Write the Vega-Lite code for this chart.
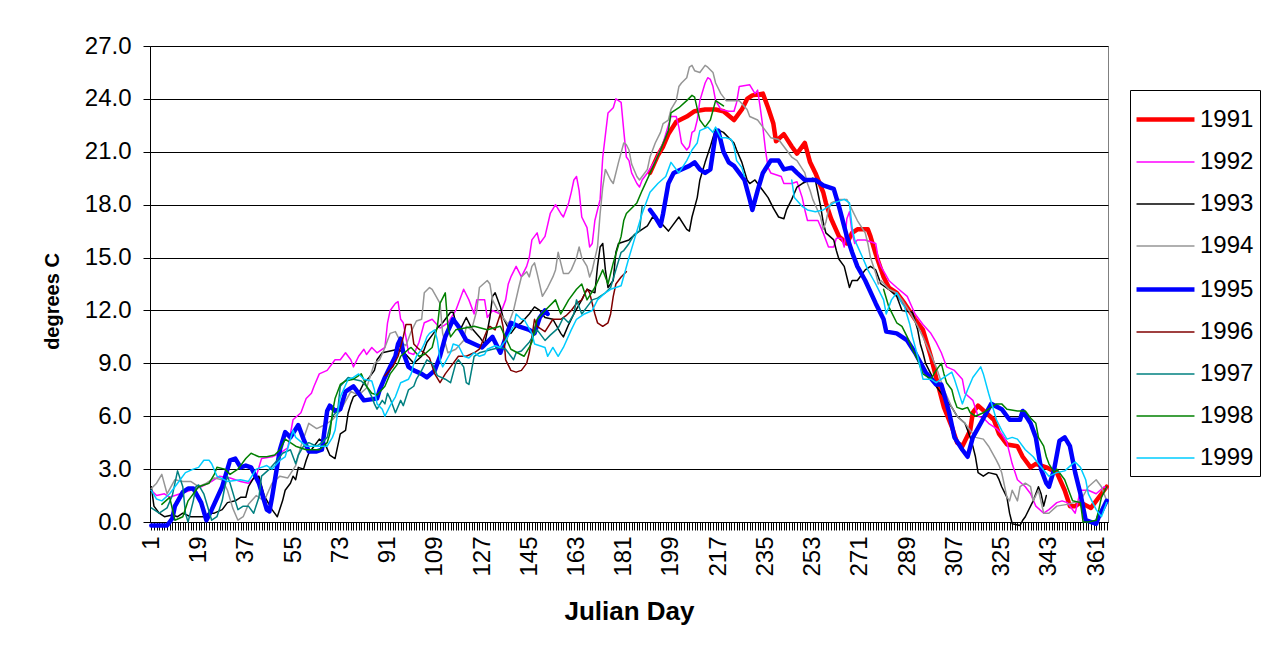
{
  "$schema": "https://vega.github.io/schema/vega-lite/v6.json",
  "width": 958,
  "height": 476,
  "autosize": {"type": "none"},
  "padding": {"left": 150, "top": 46, "right": 159, "bottom": 131},
  "background": "white",
  "config": {
    "font": "Liberation Sans",
    "view": {"stroke": "#808080", "strokeWidth": 1},
    "axis": {"labelFont": "Liberation Sans", "titleFont": "Liberation Sans", "labelColor": "black", "titleColor": "black", "domainColor": "black", "tickColor": "black"}
  },
  "data": {"values": [
    {"s":"1991","d":191,"t":19.8},{"s":"1991","d":194,"t":20.8},{"s":"1991","d":196,"t":21.3},{"s":"1991","d":198,"t":22.0},{"s":"1991","d":201,"t":22.7},{"s":"1991","d":205,"t":23.0},{"s":"1991","d":208,"t":23.3},{"s":"1991","d":212,"t":23.4},{"s":"1991","d":216,"t":23.4},{"s":"1991","d":219,"t":23.3},{"s":"1991","d":223,"t":22.8},{"s":"1991","d":226,"t":23.4},{"s":"1991","d":228,"t":24.0},{"s":"1991","d":230,"t":24.2},{"s":"1991","d":234,"t":24.3},{"s":"1991","d":236,"t":23.5},{"s":"1991","d":238,"t":22.6},{"s":"1991","d":239,"t":21.6},{"s":"1991","d":242,"t":22.0},{"s":"1991","d":245,"t":21.3},{"s":"1991","d":247,"t":20.9},{"s":"1991","d":250,"t":21.5},{"s":"1991","d":252,"t":20.4},{"s":"1991","d":254,"t":19.8},{"s":"1991","d":257,"t":18.7},{"s":"1991","d":258,"t":18.1},{"s":"1991","d":260,"t":17.2},{"s":"1991","d":263,"t":16.2},{"s":"1991","d":266,"t":15.8},{"s":"1991","d":268,"t":16.4},{"s":"1991","d":270,"t":16.6},{"s":"1991","d":274,"t":16.6},{"s":"1991","d":275,"t":16.2},{"s":"1991","d":277,"t":15.2},{"s":"1991","d":280,"t":13.9},{"s":"1991","d":282,"t":13.3},{"s":"1991","d":285,"t":13.0},{"s":"1991","d":288,"t":12.4},{"s":"1991","d":292,"t":11.5},{"s":"1991","d":295,"t":10.9},{"s":"1991","d":298,"t":9.4},{"s":"1991","d":300,"t":8.2},{"s":"1991","d":303,"t":6.5},{"s":"1991","d":306,"t":5.4},{"s":"1991","d":308,"t":4.5},{"s":"1991","d":310,"t":4.3},{"s":"1991","d":311,"t":4.6},{"s":"1991","d":313,"t":5.2},{"s":"1991","d":314,"t":6.2},{"s":"1991","d":316,"t":6.6},{"s":"1991","d":319,"t":6.2},{"s":"1991","d":322,"t":5.8},{"s":"1991","d":324,"t":5.0},{"s":"1991","d":327,"t":4.4},{"s":"1991","d":331,"t":4.3},{"s":"1991","d":333,"t":3.7},{"s":"1991","d":336,"t":3.1},{"s":"1991","d":338,"t":3.3},{"s":"1991","d":342,"t":3.1},{"s":"1991","d":346,"t":2.8},{"s":"1991","d":349,"t":1.8},{"s":"1991","d":351,"t":0.9},{"s":"1991","d":353,"t":0.9},{"s":"1991","d":355,"t":1.1},{"s":"1991","d":359,"t":0.8},{"s":"1991","d":361,"t":1.2},{"s":"1991","d":364,"t":1.8},{"s":"1991","d":365,"t":2.0},
    {"s":"1992","d":1,"t":1.8},{"s":"1992","d":3,"t":1.5},{"s":"1992","d":6,"t":1.6},{"s":"1992","d":8,"t":1.4},{"s":"1992","d":12,"t":1.6},{"s":"1992","d":16,"t":1.8},{"s":"1992","d":20,"t":2.0},{"s":"1992","d":24,"t":2.3},{"s":"1992","d":27,"t":2.6},{"s":"1992","d":31,"t":2.5},{"s":"1992","d":35,"t":2.3},{"s":"1992","d":38,"t":2.2},{"s":"1992","d":41,"t":2.6},{"s":"1992","d":43,"t":3.6},{"s":"1992","d":47,"t":3.7},{"s":"1992","d":50,"t":3.9},{"s":"1992","d":53,"t":4.2},{"s":"1992","d":55,"t":5.8},{"s":"1992","d":58,"t":6.2},{"s":"1992","d":60,"t":7.0},{"s":"1992","d":62,"t":7.3},{"s":"1992","d":63,"t":7.7},{"s":"1992","d":65,"t":8.4},{"s":"1992","d":68,"t":8.6},{"s":"1992","d":71,"t":9.2},{"s":"1992","d":73,"t":9.2},{"s":"1992","d":75,"t":9.6},{"s":"1992","d":77,"t":9.2},{"s":"1992","d":78,"t":8.8},{"s":"1992","d":80,"t":9.4},{"s":"1992","d":82,"t":9.8},{"s":"1992","d":83,"t":9.5},{"s":"1992","d":85,"t":9.9},{"s":"1992","d":87,"t":9.6},{"s":"1992","d":90,"t":9.9},{"s":"1992","d":91,"t":11.3},{"s":"1992","d":92,"t":12.0},{"s":"1992","d":94,"t":12.4},{"s":"1992","d":95,"t":12.5},{"s":"1992","d":96,"t":11.5},{"s":"1992","d":97,"t":11.3},{"s":"1992","d":98,"t":10.5},{"s":"1992","d":99,"t":9.6},{"s":"1992","d":101,"t":9.5},{"s":"1992","d":103,"t":10.2},{"s":"1992","d":105,"t":11.3},{"s":"1992","d":108,"t":11.5},{"s":"1992","d":111,"t":11.0},{"s":"1992","d":114,"t":11.3},{"s":"1992","d":117,"t":12.0},{"s":"1992","d":120,"t":13.2},{"s":"1992","d":122,"t":12.6},{"s":"1992","d":124,"t":11.8},{"s":"1992","d":125,"t":12.6},{"s":"1992","d":128,"t":12.6},{"s":"1992","d":129,"t":11.6},{"s":"1992","d":131,"t":12.0},{"s":"1992","d":134,"t":11.8},{"s":"1992","d":136,"t":12.6},{"s":"1992","d":137,"t":13.5},{"s":"1992","d":138,"t":13.9},{"s":"1992","d":140,"t":14.5},{"s":"1992","d":142,"t":13.9},{"s":"1992","d":144,"t":14.5},{"s":"1992","d":145,"t":15.0},{"s":"1992","d":146,"t":16.0},{"s":"1992","d":148,"t":16.4},{"s":"1992","d":149,"t":15.8},{"s":"1992","d":151,"t":16.2},{"s":"1992","d":153,"t":17.5},{"s":"1992","d":155,"t":18.0},{"s":"1992","d":157,"t":17.5},{"s":"1992","d":158,"t":17.3},{"s":"1992","d":160,"t":18.1},{"s":"1992","d":161,"t":18.7},{"s":"1992","d":162,"t":19.4},{"s":"1992","d":163,"t":19.6},{"s":"1992","d":164,"t":18.8},{"s":"1992","d":165,"t":17.3},{"s":"1992","d":167,"t":16.7},{"s":"1992","d":168,"t":15.6},{"s":"1992","d":169,"t":15.8},{"s":"1992","d":170,"t":17.1},{"s":"1992","d":172,"t":18.3},{"s":"1992","d":173,"t":20.7},{"s":"1992","d":175,"t":23.2},{"s":"1992","d":177,"t":23.5},{"s":"1992","d":178,"t":24.0},{"s":"1992","d":180,"t":23.8},{"s":"1992","d":181,"t":22.2},{"s":"1992","d":182,"t":20.7},{"s":"1992","d":183,"t":20.5},{"s":"1992","d":184,"t":19.8},{"s":"1992","d":186,"t":19.2},{"s":"1992","d":187,"t":19.0},{"s":"1992","d":188,"t":19.4},{"s":"1992","d":190,"t":19.8},{"s":"1992","d":193,"t":20.5},{"s":"1992","d":196,"t":21.5},{"s":"1992","d":199,"t":23.0},{"s":"1992","d":201,"t":23.0},{"s":"1992","d":202,"t":22.4},{"s":"1992","d":203,"t":21.5},{"s":"1992","d":205,"t":21.1},{"s":"1992","d":206,"t":21.3},{"s":"1992","d":207,"t":22.1},{"s":"1992","d":208,"t":22.2},{"s":"1992","d":209,"t":22.8},{"s":"1992","d":210,"t":23.9},{"s":"1992","d":212,"t":24.9},{"s":"1992","d":213,"t":25.2},{"s":"1992","d":214,"t":25.1},{"s":"1992","d":215,"t":24.7},{"s":"1992","d":216,"t":23.9},{"s":"1992","d":218,"t":23.4},{"s":"1992","d":221,"t":23.3},{"s":"1992","d":223,"t":23.3},{"s":"1992","d":224,"t":23.8},{"s":"1992","d":225,"t":24.7},{"s":"1992","d":229,"t":24.8},{"s":"1992","d":231,"t":24.3},{"s":"1992","d":232,"t":24.5},{"s":"1992","d":233,"t":23.5},{"s":"1992","d":234,"t":22.4},{"s":"1992","d":235,"t":21.1},{"s":"1992","d":236,"t":20.1},{"s":"1992","d":237,"t":19.8},{"s":"1992","d":241,"t":19.6},{"s":"1992","d":242,"t":19.2},{"s":"1992","d":245,"t":19.2},{"s":"1992","d":247,"t":19.3},{"s":"1992","d":249,"t":18.4},{"s":"1992","d":250,"t":17.7},{"s":"1992","d":251,"t":17.1},{"s":"1992","d":255,"t":17.1},{"s":"1992","d":257,"t":16.4},{"s":"1992","d":259,"t":15.6},{"s":"1992","d":261,"t":15.6},{"s":"1992","d":262,"t":16.1},{"s":"1992","d":264,"t":16.1},{"s":"1992","d":265,"t":15.6},{"s":"1992","d":266,"t":17.2},{"s":"1992","d":267,"t":17.6},{"s":"1992","d":268,"t":16.4},{"s":"1992","d":269,"t":15.8},{"s":"1992","d":270,"t":16.0},{"s":"1992","d":273,"t":16.0},{"s":"1992","d":277,"t":15.8},{"s":"1992","d":278,"t":14.9},{"s":"1992","d":279,"t":14.5},{"s":"1992","d":282,"t":13.7},{"s":"1992","d":285,"t":13.3},{"s":"1992","d":289,"t":12.8},{"s":"1992","d":292,"t":11.8},{"s":"1992","d":295,"t":11.2},{"s":"1992","d":298,"t":10.7},{"s":"1992","d":300,"t":10.2},{"s":"1992","d":302,"t":9.6},{"s":"1992","d":304,"t":8.8},{"s":"1992","d":307,"t":8.6},{"s":"1992","d":310,"t":8.1},{"s":"1992","d":311,"t":7.3},{"s":"1992","d":314,"t":6.9},{"s":"1992","d":316,"t":6.0},{"s":"1992","d":318,"t":5.9},{"s":"1992","d":320,"t":5.6},{"s":"1992","d":323,"t":5.3},{"s":"1992","d":325,"t":5.0},{"s":"1992","d":327,"t":4.5},{"s":"1992","d":329,"t":3.3},{"s":"1992","d":331,"t":2.4},{"s":"1992","d":334,"t":2.0},{"s":"1992","d":336,"t":1.6},{"s":"1992","d":338,"t":0.9},{"s":"1992","d":341,"t":0.5},{"s":"1992","d":343,"t":0.7},{"s":"1992","d":346,"t":1.1},{"s":"1992","d":348,"t":1.2},{"s":"1992","d":350,"t":1.1},{"s":"1992","d":353,"t":0.5},{"s":"1992","d":355,"t":1.8},{"s":"1992","d":358,"t":1.8},{"s":"1992","d":361,"t":1.6},{"s":"1992","d":364,"t":2.0},{"s":"1992","d":365,"t":1.9},
    {"s":"1993","d":1,"t":2.0},{"s":"1993","d":2,"t":0.9},{"s":"1993","d":4,"t":0.5},{"s":"1993","d":6,"t":0.3},{"s":"1993","d":9,"t":0.4},{"s":"1993","d":11,"t":0.3},{"s":"1993","d":13,"t":0.5},{"s":"1993","d":16,"t":0.3},{"s":"1993","d":21,"t":0.3},{"s":"1993","d":23,"t":0.5},{"s":"1993","d":25,"t":0.5},{"s":"1993","d":28,"t":0.7},{"s":"1993","d":30,"t":1.1},{"s":"1993","d":33,"t":1.2},{"s":"1993","d":35,"t":1.4},{"s":"1993","d":37,"t":1.4},{"s":"1993","d":38,"t":2.0},{"s":"1993","d":40,"t":2.5},{"s":"1993","d":42,"t":2.6},{"s":"1993","d":44,"t":1.5},{"s":"1993","d":47,"t":0.7},{"s":"1993","d":49,"t":0.3},{"s":"1993","d":51,"t":1.2},{"s":"1993","d":52,"t":1.8},{"s":"1993","d":54,"t":2.2},{"s":"1993","d":55,"t":2.6},{"s":"1993","d":56,"t":2.4},{"s":"1993","d":57,"t":3.1},{"s":"1993","d":59,"t":3.0},{"s":"1993","d":60,"t":3.5},{"s":"1993","d":61,"t":3.9},{"s":"1993","d":63,"t":4.3},{"s":"1993","d":65,"t":4.7},{"s":"1993","d":67,"t":4.5},{"s":"1993","d":69,"t":3.8},{"s":"1993","d":71,"t":3.6},{"s":"1993","d":73,"t":5.0},{"s":"1993","d":75,"t":5.2},{"s":"1993","d":76,"t":6.2},{"s":"1993","d":77,"t":6.7},{"s":"1993","d":78,"t":7.1},{"s":"1993","d":80,"t":7.3},{"s":"1993","d":82,"t":7.9},{"s":"1993","d":84,"t":8.2},{"s":"1993","d":86,"t":8.6},{"s":"1993","d":87,"t":9.2},{"s":"1993","d":89,"t":9.6},{"s":"1993","d":92,"t":9.7},{"s":"1993","d":95,"t":9.8},{"s":"1993","d":98,"t":9.5},{"s":"1993","d":101,"t":9.0},{"s":"1993","d":104,"t":9.4},{"s":"1993","d":106,"t":10.2},{"s":"1993","d":108,"t":10.6},{"s":"1993","d":110,"t":11.0},{"s":"1993","d":112,"t":11.3},{"s":"1993","d":115,"t":11.9},{"s":"1993","d":116,"t":11.9},{"s":"1993","d":117,"t":11.3},{"s":"1993","d":119,"t":11.0},{"s":"1993","d":121,"t":11.6},{"s":"1993","d":123,"t":11.0},{"s":"1993","d":126,"t":10.5},{"s":"1993","d":128,"t":10.1},{"s":"1993","d":129,"t":10.8},{"s":"1993","d":130,"t":11.6},{"s":"1993","d":131,"t":12.8},{"s":"1993","d":132,"t":13.0},{"s":"1993","d":134,"t":12.2},{"s":"1993","d":135,"t":11.6},{"s":"1993","d":138,"t":10.7},{"s":"1993","d":140,"t":11.1},{"s":"1993","d":142,"t":11.3},{"s":"1993","d":145,"t":11.8},{"s":"1993","d":147,"t":12.2},{"s":"1993","d":149,"t":12.0},{"s":"1993","d":151,"t":11.6},{"s":"1993","d":154,"t":11.5},{"s":"1993","d":157,"t":10.7},{"s":"1993","d":158,"t":10.5},{"s":"1993","d":160,"t":11.2},{"s":"1993","d":162,"t":11.8},{"s":"1993","d":165,"t":12.6},{"s":"1993","d":167,"t":13.2},{"s":"1993","d":170,"t":13.0},{"s":"1993","d":171,"t":14.5},{"s":"1993","d":172,"t":15.6},{"s":"1993","d":173,"t":15.8},{"s":"1993","d":174,"t":14.3},{"s":"1993","d":175,"t":13.3},{"s":"1993","d":177,"t":13.7},{"s":"1993","d":178,"t":15.3},{"s":"1993","d":179,"t":15.8},{"s":"1993","d":183,"t":16.0},{"s":"1993","d":186,"t":16.4},{"s":"1993","d":190,"t":16.8},{"s":"1993","d":192,"t":17.3},{"s":"1993","d":195,"t":17.0},{"s":"1993","d":198,"t":16.5},{"s":"1993","d":199,"t":16.7},{"s":"1993","d":202,"t":17.3},{"s":"1993","d":205,"t":16.6},{"s":"1993","d":206,"t":16.5},{"s":"1993","d":207,"t":17.3},{"s":"1993","d":209,"t":18.4},{"s":"1993","d":210,"t":19.4},{"s":"1993","d":212,"t":20.4},{"s":"1993","d":214,"t":21.3},{"s":"1993","d":216,"t":22.3},{"s":"1993","d":219,"t":22.1},{"s":"1993","d":221,"t":21.8},{"s":"1993","d":223,"t":21.5},{"s":"1993","d":224,"t":21.1},{"s":"1993","d":226,"t":20.4},{"s":"1993","d":228,"t":19.4},{"s":"1993","d":229,"t":19.2},{"s":"1993","d":231,"t":19.4},{"s":"1993","d":234,"t":18.8},{"s":"1993","d":236,"t":18.4},{"s":"1993","d":238,"t":17.8},{"s":"1993","d":240,"t":17.3},{"s":"1993","d":242,"t":17.2},{"s":"1993","d":243,"t":17.7},{"s":"1993","d":245,"t":18.3},{"s":"1993","d":247,"t":19.0},{"s":"1993","d":249,"t":19.2},{"s":"1993","d":253,"t":19.5},{"s":"1993","d":254,"t":19.4},{"s":"1993","d":256,"t":17.9},{"s":"1993","d":257,"t":17.0},{"s":"1993","d":258,"t":16.4},{"s":"1993","d":261,"t":16.0},{"s":"1993","d":262,"t":15.4},{"s":"1993","d":263,"t":14.9},{"s":"1993","d":265,"t":14.5},{"s":"1993","d":266,"t":13.9},{"s":"1993","d":267,"t":13.3},{"s":"1993","d":268,"t":13.7},{"s":"1993","d":270,"t":13.7},{"s":"1993","d":273,"t":14.3},{"s":"1993","d":275,"t":14.5},{"s":"1993","d":277,"t":14.3},{"s":"1993","d":279,"t":13.5},{"s":"1993","d":282,"t":13.2},{"s":"1993","d":285,"t":12.8},{"s":"1993","d":287,"t":12.0},{"s":"1993","d":291,"t":11.9},{"s":"1993","d":293,"t":10.9},{"s":"1993","d":294,"t":10.1},{"s":"1993","d":295,"t":9.6},{"s":"1993","d":296,"t":9.0},{"s":"1993","d":298,"t":8.4},{"s":"1993","d":300,"t":7.7},{"s":"1993","d":303,"t":7.1},{"s":"1993","d":306,"t":6.5},{"s":"1993","d":308,"t":6.0},{"s":"1993","d":311,"t":5.6},{"s":"1993","d":312,"t":5.2},{"s":"1993","d":313,"t":4.8},{"s":"1993","d":314,"t":4.3},{"s":"1993","d":315,"t":3.7},{"s":"1993","d":316,"t":2.8},{"s":"1993","d":318,"t":2.6},{"s":"1993","d":320,"t":2.8},{"s":"1993","d":323,"t":2.7},{"s":"1993","d":324,"t":2.4},{"s":"1993","d":325,"t":2.0},{"s":"1993","d":327,"t":1.4},{"s":"1993","d":328,"t":0.5},{"s":"1993","d":329,"t":-0.1},{"s":"1993","d":332,"t":-0.2},{"s":"1993","d":333,"t":0.1},{"s":"1993","d":334,"t":0.3},{"s":"1993","d":336,"t":0.9},{"s":"1993","d":337,"t":1.2},{"s":"1993","d":338,"t":1.6},{"s":"1993","d":339,"t":2.0},{"s":"1993","d":340,"t":1.6},{"s":"1993","d":341,"t":0.9},{"s":"1993","d":342,"t":1.5},
    {"s":"1994","d":1,"t":1.9},{"s":"1994","d":3,"t":2.2},{"s":"1994","d":5,"t":2.7},{"s":"1994","d":7,"t":1.6},{"s":"1994","d":10,"t":2.4},{"s":"1994","d":13,"t":2.3},{"s":"1994","d":16,"t":2.3},{"s":"1994","d":19,"t":2.0},{"s":"1994","d":22,"t":2.2},{"s":"1994","d":25,"t":2.5},{"s":"1994","d":28,"t":2.4},{"s":"1994","d":30,"t":1.8},{"s":"1994","d":32,"t":0.8},{"s":"1994","d":34,"t":0.1},{"s":"1994","d":36,"t":0.3},{"s":"1994","d":38,"t":1.0},{"s":"1994","d":41,"t":1.5},{"s":"1994","d":44,"t":1.2},{"s":"1994","d":47,"t":2.2},{"s":"1994","d":50,"t":2.6},{"s":"1994","d":53,"t":2.5},{"s":"1994","d":56,"t":3.2},{"s":"1994","d":58,"t":4.3},{"s":"1994","d":61,"t":5.6},{"s":"1994","d":64,"t":5.3},{"s":"1994","d":67,"t":5.5},{"s":"1994","d":70,"t":5.8},{"s":"1994","d":73,"t":6.3},{"s":"1994","d":77,"t":7.4},{"s":"1994","d":80,"t":7.2},{"s":"1994","d":83,"t":7.6},{"s":"1994","d":86,"t":9.0},{"s":"1994","d":88,"t":9.2},{"s":"1994","d":90,"t":9.9},{"s":"1994","d":92,"t":10.7},{"s":"1994","d":94,"t":10.8},{"s":"1994","d":96,"t":10.2},{"s":"1994","d":98,"t":10.0},{"s":"1994","d":100,"t":10.8},{"s":"1994","d":102,"t":11.4},{"s":"1994","d":104,"t":11.5},{"s":"1994","d":105,"t":13.0},{"s":"1994","d":107,"t":13.3},{"s":"1994","d":108,"t":13.2},{"s":"1994","d":111,"t":12.4},{"s":"1994","d":112,"t":10.7},{"s":"1994","d":114,"t":9.6},{"s":"1994","d":117,"t":9.8},{"s":"1994","d":120,"t":10.3},{"s":"1994","d":121,"t":11.1},{"s":"1994","d":123,"t":10.9},{"s":"1994","d":125,"t":12.0},{"s":"1994","d":126,"t":13.3},{"s":"1994","d":129,"t":13.7},{"s":"1994","d":130,"t":13.5},{"s":"1994","d":131,"t":12.6},{"s":"1994","d":133,"t":12.0},{"s":"1994","d":135,"t":11.6},{"s":"1994","d":137,"t":11.2},{"s":"1994","d":139,"t":12.0},{"s":"1994","d":141,"t":13.3},{"s":"1994","d":142,"t":13.9},{"s":"1994","d":144,"t":14.2},{"s":"1994","d":145,"t":13.9},{"s":"1994","d":146,"t":14.5},{"s":"1994","d":147,"t":14.7},{"s":"1994","d":148,"t":14.1},{"s":"1994","d":150,"t":12.8},{"s":"1994","d":152,"t":13.3},{"s":"1994","d":154,"t":13.9},{"s":"1994","d":155,"t":14.3},{"s":"1994","d":156,"t":15.3},{"s":"1994","d":157,"t":14.7},{"s":"1994","d":158,"t":14.1},{"s":"1994","d":160,"t":14.1},{"s":"1994","d":161,"t":14.3},{"s":"1994","d":163,"t":15.0},{"s":"1994","d":164,"t":15.6},{"s":"1994","d":165,"t":15.0},{"s":"1994","d":167,"t":14.5},{"s":"1994","d":168,"t":13.9},{"s":"1994","d":169,"t":14.3},{"s":"1994","d":171,"t":15.6},{"s":"1994","d":172,"t":17.5},{"s":"1994","d":173,"t":19.0},{"s":"1994","d":174,"t":20.0},{"s":"1994","d":176,"t":19.4},{"s":"1994","d":177,"t":19.2},{"s":"1994","d":179,"t":20.4},{"s":"1994","d":181,"t":21.5},{"s":"1994","d":182,"t":21.4},{"s":"1994","d":183,"t":21.1},{"s":"1994","d":184,"t":20.3},{"s":"1994","d":186,"t":19.6},{"s":"1994","d":187,"t":19.4},{"s":"1994","d":188,"t":19.6},{"s":"1994","d":190,"t":20.0},{"s":"1994","d":191,"t":20.7},{"s":"1994","d":193,"t":21.5},{"s":"1994","d":195,"t":22.1},{"s":"1994","d":196,"t":22.6},{"s":"1994","d":198,"t":22.8},{"s":"1994","d":199,"t":23.4},{"s":"1994","d":201,"t":23.9},{"s":"1994","d":202,"t":24.7},{"s":"1994","d":203,"t":24.9},{"s":"1994","d":205,"t":25.2},{"s":"1994","d":206,"t":25.8},{"s":"1994","d":207,"t":25.9},{"s":"1994","d":208,"t":25.6},{"s":"1994","d":210,"t":25.5},{"s":"1994","d":212,"t":25.9},{"s":"1994","d":213,"t":25.8},{"s":"1994","d":215,"t":25.5},{"s":"1994","d":216,"t":24.9},{"s":"1994","d":218,"t":24.3},{"s":"1994","d":220,"t":23.9},{"s":"1994","d":225,"t":23.9},{"s":"1994","d":228,"t":23.4},{"s":"1994","d":229,"t":23.0},{"s":"1994","d":232,"t":22.8},{"s":"1994","d":234,"t":22.4},{"s":"1994","d":237,"t":21.8},{"s":"1994","d":240,"t":21.7},{"s":"1994","d":242,"t":21.3},{"s":"1994","d":245,"t":20.7},{"s":"1994","d":247,"t":20.5},{"s":"1994","d":250,"t":19.8},{"s":"1994","d":251,"t":19.2},{"s":"1994","d":252,"t":18.8},{"s":"1994","d":253,"t":18.3},{"s":"1994","d":256,"t":17.3},{"s":"1994","d":257,"t":16.6},{"s":"1994","d":258,"t":17.0},{"s":"1994","d":259,"t":17.7},{"s":"1994","d":260,"t":18.1},{"s":"1994","d":263,"t":18.3},{"s":"1994","d":266,"t":18.3},{"s":"1994","d":268,"t":17.7},{"s":"1994","d":270,"t":17.1},{"s":"1994","d":273,"t":16.4},{"s":"1994","d":274,"t":15.8},{"s":"1994","d":275,"t":15.0},{"s":"1994","d":277,"t":14.1},{"s":"1994","d":278,"t":13.5},{"s":"1994","d":279,"t":13.7},{"s":"1994","d":282,"t":13.2},{"s":"1994","d":285,"t":13.0},{"s":"1994","d":287,"t":12.6},{"s":"1994","d":290,"t":11.9},{"s":"1994","d":293,"t":11.1},{"s":"1994","d":295,"t":10.5},{"s":"1994","d":298,"t":9.5},{"s":"1994","d":300,"t":8.8},{"s":"1994","d":303,"t":7.5},{"s":"1994","d":306,"t":6.5},{"s":"1994","d":308,"t":6.0},{"s":"1994","d":311,"t":5.6},{"s":"1994","d":313,"t":5.2},{"s":"1994","d":315,"t":4.8},{"s":"1994","d":318,"t":4.7},{"s":"1994","d":320,"t":4.3},{"s":"1994","d":323,"t":3.5},{"s":"1994","d":324,"t":3.2},{"s":"1994","d":325,"t":2.8},{"s":"1994","d":327,"t":1.4},{"s":"1994","d":328,"t":1.2},{"s":"1994","d":329,"t":1.8},{"s":"1994","d":331,"t":1.2},{"s":"1994","d":332,"t":2.0},{"s":"1994","d":334,"t":2.2},{"s":"1994","d":336,"t":2.0},{"s":"1994","d":337,"t":1.2},{"s":"1994","d":339,"t":1.8},{"s":"1994","d":341,"t":0.5},{"s":"1994","d":343,"t":0.5},{"s":"1994","d":346,"t":0.9},{"s":"1994","d":350,"t":1.0},{"s":"1994","d":355,"t":1.2},{"s":"1994","d":358,"t":2.0},{"s":"1994","d":361,"t":2.4},{"s":"1994","d":363,"t":2.0},{"s":"1994","d":365,"t":1.2},
    {"s":"1995","d":1,"t":-0.2},{"s":"1995","d":7,"t":-0.2},{"s":"1995","d":9,"t":0.2},{"s":"1995","d":10,"t":0.9},{"s":"1995","d":13,"t":1.7},{"s":"1995","d":15,"t":1.9},{"s":"1995","d":17,"t":1.9},{"s":"1995","d":20,"t":1.1},{"s":"1995","d":22,"t":0.1},{"s":"1995","d":24,"t":0.7},{"s":"1995","d":28,"t":2.0},{"s":"1995","d":31,"t":3.5},{"s":"1995","d":33,"t":3.6},{"s":"1995","d":35,"t":3.1},{"s":"1995","d":37,"t":3.2},{"s":"1995","d":39,"t":3.1},{"s":"1995","d":42,"t":2.2},{"s":"1995","d":45,"t":0.7},{"s":"1995","d":46,"t":0.6},{"s":"1995","d":47,"t":1.4},{"s":"1995","d":50,"t":4.1},{"s":"1995","d":52,"t":5.1},{"s":"1995","d":54,"t":4.8},{"s":"1995","d":57,"t":5.5},{"s":"1995","d":59,"t":4.7},{"s":"1995","d":61,"t":4.0},{"s":"1995","d":64,"t":4.0},{"s":"1995","d":66,"t":4.1},{"s":"1995","d":68,"t":6.3},{"s":"1995","d":69,"t":6.6},{"s":"1995","d":71,"t":6.3},{"s":"1995","d":73,"t":6.4},{"s":"1995","d":75,"t":7.4},{"s":"1995","d":78,"t":7.7},{"s":"1995","d":80,"t":7.3},{"s":"1995","d":82,"t":6.9},{"s":"1995","d":87,"t":7.0},{"s":"1995","d":88,"t":7.5},{"s":"1995","d":90,"t":8.2},{"s":"1995","d":92,"t":8.8},{"s":"1995","d":94,"t":9.4},{"s":"1995","d":95,"t":10.1},{"s":"1995","d":96,"t":10.4},{"s":"1995","d":97,"t":9.6},{"s":"1995","d":99,"t":8.8},{"s":"1995","d":101,"t":8.6},{"s":"1995","d":104,"t":8.4},{"s":"1995","d":106,"t":8.2},{"s":"1995","d":109,"t":8.6},{"s":"1995","d":111,"t":9.4},{"s":"1995","d":113,"t":10.5},{"s":"1995","d":116,"t":11.5},{"s":"1995","d":118,"t":11.1},{"s":"1995","d":121,"t":10.3},{"s":"1995","d":124,"t":10.1},{"s":"1995","d":127,"t":9.9},{"s":"1995","d":131,"t":10.5},{"s":"1995","d":134,"t":9.6},{"s":"1995","d":138,"t":11.3},{"s":"1995","d":141,"t":11.1},{"s":"1995","d":145,"t":10.9},{"s":"1995","d":147,"t":10.7},{"s":"1995","d":149,"t":11.6},{"s":"1995","d":151,"t":12.0},{"s":"1995","d":152,"t":11.8},{"s":"1995","d":170,"t":null},{"s":"1995","d":191,"t":17.7},{"s":"1995","d":193,"t":17.3},{"s":"1995","d":195,"t":16.8},{"s":"1995","d":196,"t":17.5},{"s":"1995","d":198,"t":19.2},{"s":"1995","d":200,"t":19.8},{"s":"1995","d":203,"t":20.0},{"s":"1995","d":206,"t":20.2},{"s":"1995","d":208,"t":20.4},{"s":"1995","d":210,"t":20.0},{"s":"1995","d":212,"t":19.8},{"s":"1995","d":214,"t":20.0},{"s":"1995","d":216,"t":22.0},{"s":"1995","d":217,"t":22.2},{"s":"1995","d":219,"t":21.0},{"s":"1995","d":221,"t":20.4},{"s":"1995","d":223,"t":20.2},{"s":"1995","d":225,"t":19.8},{"s":"1995","d":227,"t":19.4},{"s":"1995","d":229,"t":18.3},{"s":"1995","d":230,"t":17.7},{"s":"1995","d":232,"t":18.8},{"s":"1995","d":234,"t":19.8},{"s":"1995","d":237,"t":20.5},{"s":"1995","d":240,"t":20.5},{"s":"1995","d":242,"t":20.0},{"s":"1995","d":245,"t":20.1},{"s":"1995","d":247,"t":19.8},{"s":"1995","d":250,"t":19.4},{"s":"1995","d":254,"t":19.4},{"s":"1995","d":257,"t":19.1},{"s":"1995","d":261,"t":18.9},{"s":"1995","d":263,"t":17.9},{"s":"1995","d":266,"t":16.2},{"s":"1995","d":268,"t":15.3},{"s":"1995","d":270,"t":14.5},{"s":"1995","d":273,"t":13.7},{"s":"1995","d":277,"t":12.4},{"s":"1995","d":280,"t":11.5},{"s":"1995","d":281,"t":10.8},{"s":"1995","d":285,"t":10.7},{"s":"1995","d":289,"t":10.3},{"s":"1995","d":292,"t":9.6},{"s":"1995","d":296,"t":8.5},{"s":"1995","d":300,"t":7.8},{"s":"1995","d":302,"t":7.8},{"s":"1995","d":305,"t":6.2},{"s":"1995","d":307,"t":4.8},{"s":"1995","d":310,"t":4.1},{"s":"1995","d":312,"t":3.7},{"s":"1995","d":314,"t":4.8},{"s":"1995","d":317,"t":5.6},{"s":"1995","d":321,"t":6.7},{"s":"1995","d":325,"t":6.4},{"s":"1995","d":328,"t":5.8},{"s":"1995","d":332,"t":5.8},{"s":"1995","d":333,"t":6.3},{"s":"1995","d":336,"t":5.6},{"s":"1995","d":338,"t":4.8},{"s":"1995","d":340,"t":3.0},{"s":"1995","d":342,"t":2.2},{"s":"1995","d":343,"t":2.0},{"s":"1995","d":345,"t":3.0},{"s":"1995","d":347,"t":4.6},{"s":"1995","d":349,"t":4.8},{"s":"1995","d":351,"t":4.3},{"s":"1995","d":353,"t":2.8},{"s":"1995","d":355,"t":1.6},{"s":"1995","d":357,"t":0.1},{"s":"1995","d":361,"t":-0.1},{"s":"1995","d":362,"t":0.3},{"s":"1995","d":365,"t":1.2},
    {"s":"1996","d":90,"t":8.3},{"s":"1996","d":93,"t":8.8},{"s":"1996","d":95,"t":9.4},{"s":"1996","d":97,"t":10.5},{"s":"1996","d":98,"t":11.2},{"s":"1996","d":100,"t":11.2},{"s":"1996","d":101,"t":10.1},{"s":"1996","d":103,"t":9.8},{"s":"1996","d":105,"t":9.6},{"s":"1996","d":107,"t":9.3},{"s":"1996","d":109,"t":8.4},{"s":"1996","d":111,"t":7.9},{"s":"1996","d":113,"t":8.4},{"s":"1996","d":115,"t":8.8},{"s":"1996","d":118,"t":9.4},{"s":"1996","d":121,"t":9.4},{"s":"1996","d":124,"t":9.6},{"s":"1996","d":126,"t":9.8},{"s":"1996","d":129,"t":10.9},{"s":"1996","d":130,"t":11.1},{"s":"1996","d":132,"t":10.9},{"s":"1996","d":134,"t":11.8},{"s":"1996","d":135,"t":11.1},{"s":"1996","d":136,"t":9.2},{"s":"1996","d":138,"t":8.6},{"s":"1996","d":140,"t":8.5},{"s":"1996","d":142,"t":8.6},{"s":"1996","d":144,"t":9.0},{"s":"1996","d":145,"t":9.6},{"s":"1996","d":146,"t":10.5},{"s":"1996","d":147,"t":11.5},{"s":"1996","d":148,"t":11.1},{"s":"1996","d":151,"t":10.8},{"s":"1996","d":154,"t":11.5},{"s":"1996","d":157,"t":11.5},{"s":"1996","d":159,"t":11.7},{"s":"1996","d":161,"t":12.0},{"s":"1996","d":163,"t":12.4},{"s":"1996","d":165,"t":12.6},{"s":"1996","d":167,"t":13.2},{"s":"1996","d":168,"t":13.0},{"s":"1996","d":170,"t":11.8},{"s":"1996","d":171,"t":11.3},{"s":"1996","d":173,"t":11.1},{"s":"1996","d":175,"t":11.3},{"s":"1996","d":176,"t":11.8},{"s":"1996","d":177,"t":12.8},{"s":"1996","d":178,"t":13.5},{"s":"1996","d":180,"t":13.9},{"s":"1996","d":182,"t":14.2},
    {"s":"1997","d":1,"t":0.8},{"s":"1997","d":4,"t":0.5},{"s":"1997","d":7,"t":0.8},{"s":"1997","d":9,"t":1.5},{"s":"1997","d":11,"t":2.9},{"s":"1997","d":13,"t":2.0},{"s":"1997","d":14,"t":0.5},{"s":"1997","d":15,"t":0.0},{"s":"1997","d":17,"t":1.2},{"s":"1997","d":18,"t":2.0},{"s":"1997","d":19,"t":2.1},{"s":"1997","d":21,"t":1.6},{"s":"1997","d":23,"t":0.6},{"s":"1997","d":24,"t":0.1},{"s":"1997","d":26,"t":0.3},{"s":"1997","d":28,"t":1.2},{"s":"1997","d":29,"t":2.0},{"s":"1997","d":30,"t":2.6},{"s":"1997","d":31,"t":2.2},{"s":"1997","d":33,"t":1.2},{"s":"1997","d":34,"t":0.7},{"s":"1997","d":36,"t":0.9},{"s":"1997","d":38,"t":0.9},{"s":"1997","d":40,"t":0.5},{"s":"1997","d":42,"t":1.4},{"s":"1997","d":43,"t":2.6},{"s":"1997","d":46,"t":3.0},{"s":"1997","d":49,"t":3.5},{"s":"1997","d":51,"t":3.9},{"s":"1997","d":54,"t":4.1},{"s":"1997","d":56,"t":3.3},{"s":"1997","d":57,"t":3.8},{"s":"1997","d":59,"t":4.3},{"s":"1997","d":61,"t":4.5},{"s":"1997","d":64,"t":4.3},{"s":"1997","d":66,"t":4.5},{"s":"1997","d":68,"t":4.8},{"s":"1997","d":69,"t":5.4},{"s":"1997","d":70,"t":6.0},{"s":"1997","d":72,"t":6.3},{"s":"1997","d":73,"t":7.7},{"s":"1997","d":76,"t":8.2},{"s":"1997","d":78,"t":8.1},{"s":"1997","d":81,"t":8.0},{"s":"1997","d":83,"t":7.7},{"s":"1997","d":85,"t":7.1},{"s":"1997","d":86,"t":6.7},{"s":"1997","d":87,"t":6.4},{"s":"1997","d":89,"t":6.9},{"s":"1997","d":90,"t":6.7},{"s":"1997","d":91,"t":7.3},{"s":"1997","d":92,"t":7.0},{"s":"1997","d":94,"t":6.2},{"s":"1997","d":96,"t":6.9},{"s":"1997","d":97,"t":6.6},{"s":"1997","d":99,"t":7.5},{"s":"1997","d":101,"t":7.7},{"s":"1997","d":102,"t":8.1},{"s":"1997","d":104,"t":8.6},{"s":"1997","d":106,"t":9.2},{"s":"1997","d":108,"t":9.0},{"s":"1997","d":110,"t":8.3},{"s":"1997","d":113,"t":8.1},{"s":"1997","d":115,"t":7.9},{"s":"1997","d":117,"t":9.0},{"s":"1997","d":118,"t":9.2},{"s":"1997","d":120,"t":8.8},{"s":"1997","d":121,"t":7.9},{"s":"1997","d":122,"t":7.8},{"s":"1997","d":124,"t":9.4},{"s":"1997","d":126,"t":9.6},{"s":"1997","d":131,"t":9.8},{"s":"1997","d":134,"t":9.9},{"s":"1997","d":136,"t":9.8},{"s":"1997","d":138,"t":9.4},{"s":"1997","d":139,"t":9.2},{"s":"1997","d":140,"t":9.6},{"s":"1997","d":142,"t":9.7},{"s":"1997","d":145,"t":10.2},{"s":"1997","d":148,"t":10.9},{"s":"1997","d":151,"t":10.3},{"s":"1997","d":153,"t":10.6},{"s":"1997","d":156,"t":11.0},{"s":"1997","d":158,"t":11.6},{"s":"1997","d":160,"t":11.3},{"s":"1997","d":162,"t":11.8},{"s":"1997","d":163,"t":12.6},{"s":"1997","d":165,"t":11.8},{"s":"1997","d":167,"t":12.2},{"s":"1997","d":169,"t":12.6},{"s":"1997","d":171,"t":12.7},{"s":"1997","d":174,"t":13.0},{"s":"1997","d":176,"t":13.3},{"s":"1997","d":178,"t":14.3},{"s":"1997","d":180,"t":15.3},{"s":"1997","d":181,"t":15.4},{"s":"1997","d":183,"t":15.8},{"s":"1997","d":185,"t":16.3},{"s":"1997","d":187,"t":16.5},{"s":"1997","d":188,"t":17.9},
    {"s":"1998","d":5,"t":1.0},{"s":"1998","d":8,"t":1.4},{"s":"1998","d":10,"t":0.1},{"s":"1998","d":13,"t":0.3},{"s":"1998","d":15,"t":1.2},{"s":"1998","d":19,"t":2.0},{"s":"1998","d":23,"t":2.2},{"s":"1998","d":25,"t":2.7},{"s":"1998","d":26,"t":3.1},{"s":"1998","d":29,"t":3.0},{"s":"1998","d":31,"t":2.7},{"s":"1998","d":34,"t":3.0},{"s":"1998","d":37,"t":3.6},{"s":"1998","d":39,"t":3.9},{"s":"1998","d":42,"t":3.7},{"s":"1998","d":45,"t":3.7},{"s":"1998","d":48,"t":3.8},{"s":"1998","d":50,"t":4.1},{"s":"1998","d":52,"t":4.7},{"s":"1998","d":54,"t":4.5},{"s":"1998","d":56,"t":4.3},{"s":"1998","d":60,"t":4.1},{"s":"1998","d":65,"t":4.1},{"s":"1998","d":68,"t":4.5},{"s":"1998","d":69,"t":5.0},{"s":"1998","d":70,"t":6.2},{"s":"1998","d":71,"t":7.0},{"s":"1998","d":73,"t":7.8},{"s":"1998","d":75,"t":8.0},{"s":"1998","d":78,"t":8.1},{"s":"1998","d":81,"t":8.4},{"s":"1998","d":83,"t":7.7},{"s":"1998","d":85,"t":7.3},{"s":"1998","d":87,"t":7.2},{"s":"1998","d":90,"t":7.7},{"s":"1998","d":92,"t":8.4},{"s":"1998","d":95,"t":9.0},{"s":"1998","d":96,"t":9.4},{"s":"1998","d":99,"t":9.8},{"s":"1998","d":100,"t":9.9},{"s":"1998","d":103,"t":9.4},{"s":"1998","d":105,"t":9.5},{"s":"1998","d":108,"t":9.9},{"s":"1998","d":110,"t":11.1},{"s":"1998","d":111,"t":12.4},{"s":"1998","d":113,"t":13.0},{"s":"1998","d":114,"t":11.1},{"s":"1998","d":115,"t":10.5},{"s":"1998","d":117,"t":10.9},{"s":"1998","d":124,"t":11.1},{"s":"1998","d":129,"t":10.9},{"s":"1998","d":134,"t":11.1},{"s":"1998","d":138,"t":9.8},{"s":"1998","d":143,"t":9.4},{"s":"1998","d":145,"t":9.9},{"s":"1998","d":146,"t":10.2},{"s":"1998","d":148,"t":11.5},{"s":"1998","d":151,"t":12.0},{"s":"1998","d":155,"t":12.6},{"s":"1998","d":157,"t":11.8},{"s":"1998","d":160,"t":12.6},{"s":"1998","d":163,"t":13.2},{"s":"1998","d":165,"t":13.5},{"s":"1998","d":167,"t":12.6},{"s":"1998","d":170,"t":13.3},{"s":"1998","d":173,"t":14.3},{"s":"1998","d":175,"t":13.5},{"s":"1998","d":177,"t":14.7},{"s":"1998","d":180,"t":16.2},{"s":"1998","d":181,"t":17.1},{"s":"1998","d":182,"t":17.5},{"s":"1998","d":186,"t":18.1},{"s":"1998","d":188,"t":18.8},{"s":"1998","d":192,"t":20.1},{"s":"1998","d":195,"t":21.1},{"s":"1998","d":198,"t":22.2},{"s":"1998","d":199,"t":23.2},{"s":"1998","d":202,"t":23.5},{"s":"1998","d":205,"t":23.9},{"s":"1998","d":207,"t":24.2},{"s":"1998","d":208,"t":24.1},{"s":"1998","d":210,"t":22.8},{"s":"1998","d":212,"t":22.4},{"s":"1998","d":214,"t":22.8},{"s":"1998","d":216,"t":23.9},{"s":"1998","d":219,"t":23.6},{"s":"1998","d":250,"t":null},{"s":"1998","d":280,"t":13.2},{"s":"1998","d":282,"t":12.2},{"s":"1998","d":285,"t":11.3},{"s":"1998","d":287,"t":11.1},{"s":"1998","d":289,"t":10.5},{"s":"1998","d":291,"t":9.8},{"s":"1998","d":293,"t":9.2},{"s":"1998","d":295,"t":8.4},{"s":"1998","d":298,"t":8.1},{"s":"1998","d":300,"t":8.6},{"s":"1998","d":302,"t":9.0},{"s":"1998","d":303,"t":8.4},{"s":"1998","d":304,"t":7.9},{"s":"1998","d":306,"t":7.5},{"s":"1998","d":307,"t":6.9},{"s":"1998","d":308,"t":6.5},{"s":"1998","d":310,"t":6.4},{"s":"1998","d":312,"t":6.5},{"s":"1998","d":313,"t":6.2},{"s":"1998","d":315,"t":6.0},{"s":"1998","d":318,"t":6.2},{"s":"1998","d":320,"t":6.4},{"s":"1998","d":323,"t":6.7},{"s":"1998","d":325,"t":6.7},{"s":"1998","d":327,"t":6.4},{"s":"1998","d":331,"t":6.3},{"s":"1998","d":334,"t":6.3},{"s":"1998","d":336,"t":5.9},{"s":"1998","d":338,"t":5.6},{"s":"1998","d":339,"t":4.8},{"s":"1998","d":341,"t":4.3},{"s":"1998","d":342,"t":3.7},{"s":"1998","d":343,"t":3.3},{"s":"1998","d":345,"t":2.8},{"s":"1998","d":346,"t":3.0},{"s":"1998","d":349,"t":2.4},{"s":"1998","d":350,"t":2.0},{"s":"1998","d":352,"t":1.2},{"s":"1998","d":355,"t":1.1},{"s":"1998","d":356,"t":0.0},{"s":"1998","d":358,"t":0.0},{"s":"1998","d":361,"t":0.1},{"s":"1998","d":362,"t":0.7},{"s":"1998","d":363,"t":1.4},{"s":"1998","d":365,"t":2.0},
    {"s":"1999","d":1,"t":1.8},{"s":"1999","d":3,"t":1.3},{"s":"1999","d":5,"t":1.2},{"s":"1999","d":8,"t":1.6},{"s":"1999","d":11,"t":2.2},{"s":"1999","d":14,"t":2.8},{"s":"1999","d":17,"t":3.0},{"s":"1999","d":19,"t":3.1},{"s":"1999","d":21,"t":3.5},{"s":"1999","d":23,"t":3.5},{"s":"1999","d":24,"t":3.3},{"s":"1999","d":26,"t":2.6},{"s":"1999","d":30,"t":2.3},{"s":"1999","d":35,"t":2.4},{"s":"1999","d":38,"t":2.3},{"s":"1999","d":41,"t":3.0},{"s":"1999","d":45,"t":3.2},{"s":"1999","d":47,"t":3.0},{"s":"1999","d":50,"t":3.5},{"s":"1999","d":52,"t":3.7},{"s":"1999","d":55,"t":5.2},{"s":"1999","d":56,"t":4.8},{"s":"1999","d":60,"t":4.3},{"s":"1999","d":64,"t":4.3},{"s":"1999","d":68,"t":4.3},{"s":"1999","d":70,"t":4.8},{"s":"1999","d":71,"t":5.2},{"s":"1999","d":72,"t":6.2},{"s":"1999","d":73,"t":7.1},{"s":"1999","d":76,"t":8.1},{"s":"1999","d":78,"t":8.2},{"s":"1999","d":80,"t":8.4},{"s":"1999","d":82,"t":8.1},{"s":"1999","d":85,"t":8.0},{"s":"1999","d":86,"t":7.5},{"s":"1999","d":87,"t":6.7},{"s":"1999","d":89,"t":6.4},{"s":"1999","d":90,"t":6.0},{"s":"1999","d":92,"t":6.6},{"s":"1999","d":94,"t":7.1},{"s":"1999","d":96,"t":7.9},{"s":"1999","d":99,"t":8.1},{"s":"1999","d":100,"t":8.4},{"s":"1999","d":101,"t":9.0},{"s":"1999","d":102,"t":9.4},{"s":"1999","d":104,"t":9.8},{"s":"1999","d":105,"t":10.1},{"s":"1999","d":106,"t":10.5},{"s":"1999","d":107,"t":10.7},{"s":"1999","d":109,"t":10.9},{"s":"1999","d":110,"t":10.3},{"s":"1999","d":111,"t":9.2},{"s":"1999","d":112,"t":8.8},{"s":"1999","d":115,"t":9.6},{"s":"1999","d":116,"t":10.1},{"s":"1999","d":118,"t":10.0},{"s":"1999","d":120,"t":9.4},{"s":"1999","d":122,"t":9.3},{"s":"1999","d":124,"t":9.6},{"s":"1999","d":126,"t":9.4},{"s":"1999","d":128,"t":9.5},{"s":"1999","d":129,"t":9.8},{"s":"1999","d":132,"t":10.0},{"s":"1999","d":134,"t":9.9},{"s":"1999","d":136,"t":10.3},{"s":"1999","d":139,"t":11.1},{"s":"1999","d":140,"t":11.8},{"s":"1999","d":142,"t":11.5},{"s":"1999","d":143,"t":11.5},{"s":"1999","d":146,"t":10.7},{"s":"1999","d":147,"t":10.1},{"s":"1999","d":151,"t":9.9},{"s":"1999","d":152,"t":9.4},{"s":"1999","d":154,"t":9.9},{"s":"1999","d":156,"t":9.4},{"s":"1999","d":158,"t":9.9},{"s":"1999","d":161,"t":10.9},{"s":"1999","d":163,"t":11.5},{"s":"1999","d":166,"t":11.8},{"s":"1999","d":169,"t":12.0},{"s":"1999","d":171,"t":12.6},{"s":"1999","d":174,"t":13.0},{"s":"1999","d":176,"t":13.2},{"s":"1999","d":178,"t":13.3},{"s":"1999","d":180,"t":13.4},{"s":"1999","d":183,"t":15.0},{"s":"1999","d":186,"t":16.5},{"s":"1999","d":188,"t":17.5},{"s":"1999","d":191,"t":18.7},{"s":"1999","d":194,"t":19.2},{"s":"1999","d":197,"t":19.6},{"s":"1999","d":199,"t":20.4},{"s":"1999","d":202,"t":19.8},{"s":"1999","d":205,"t":20.5},{"s":"1999","d":207,"t":21.1},{"s":"1999","d":209,"t":21.5},{"s":"1999","d":210,"t":22.2},{"s":"1999","d":213,"t":22.4},{"s":"1999","d":215,"t":22.1},{"s":"1999","d":216,"t":22.4},{"s":"1999","d":218,"t":21.8},{"s":"1999","d":220,"t":21.8},{"s":"1999","d":222,"t":21.7},{"s":"1999","d":223,"t":21.3},{"s":"1999","d":224,"t":20.5},{"s":"1999","d":226,"t":20.1},{"s":"1999","d":227,"t":19.6},{"s":"1999","d":235,"t":null},{"s":"1999","d":245,"t":19.4},{"s":"1999","d":246,"t":18.4},{"s":"1999","d":249,"t":17.9},{"s":"1999","d":251,"t":17.7},{"s":"1999","d":254,"t":17.6},{"s":"1999","d":257,"t":17.7},{"s":"1999","d":261,"t":18.1},{"s":"1999","d":265,"t":18.3},{"s":"1999","d":267,"t":18.1},{"s":"1999","d":268,"t":16.7},{"s":"1999","d":269,"t":16.0},{"s":"1999","d":272,"t":15.0},{"s":"1999","d":274,"t":14.3},{"s":"1999","d":277,"t":13.5},{"s":"1999","d":280,"t":12.6},{"s":"1999","d":281,"t":11.8},{"s":"1999","d":283,"t":12.6},{"s":"1999","d":285,"t":13.0},{"s":"1999","d":287,"t":12.4},{"s":"1999","d":288,"t":12.2},{"s":"1999","d":290,"t":11.2},{"s":"1999","d":291,"t":10.5},{"s":"1999","d":293,"t":9.4},{"s":"1999","d":295,"t":8.1},{"s":"1999","d":298,"t":8.1},{"s":"1999","d":300,"t":7.9},{"s":"1999","d":303,"t":8.2},{"s":"1999","d":306,"t":8.5},{"s":"1999","d":307,"t":8.1},{"s":"1999","d":310,"t":6.7},{"s":"1999","d":312,"t":7.5},{"s":"1999","d":314,"t":8.2},{"s":"1999","d":317,"t":8.8},{"s":"1999","d":318,"t":8.4},{"s":"1999","d":320,"t":7.3},{"s":"1999","d":323,"t":5.8},{"s":"1999","d":325,"t":5.2},{"s":"1999","d":327,"t":4.7},{"s":"1999","d":329,"t":4.8},{"s":"1999","d":331,"t":4.7},{"s":"1999","d":334,"t":4.1},{"s":"1999","d":337,"t":3.7},{"s":"1999","d":339,"t":3.3},{"s":"1999","d":343,"t":2.6},{"s":"1999","d":346,"t":2.8},{"s":"1999","d":349,"t":2.9},{"s":"1999","d":352,"t":3.3},{"s":"1999","d":353,"t":3.4},{"s":"1999","d":355,"t":3.1},{"s":"1999","d":357,"t":2.4},{"s":"1999","d":358,"t":1.6},{"s":"1999","d":361,"t":0.7},{"s":"1999","d":363,"t":0.3},{"s":"1999","d":365,"t":1.1}
  ]},
  "mark": {"type": "line", "invalid": "break-paths-show-domains", "strokeJoin": "round", "strokeCap": "round"},
  "encoding": {
    "x": {
      "field": "d", "type": "quantitative",
      "scale": {"domain": [0.5, 365.5], "nice": false, "zero": false},
      "axis": {
        "title": "Julian Day", "titleFontSize": 26, "titleFontWeight": "bold", "titlePadding": 22,
        "tickCount": 365, "labelExpr": "(datum.value - 1) % 18 == 0 ? datum.value : ''",
        "labelOverlap": false, "labelFlush": false, "labelBound": false,
        "labelAngle": -90, "labelFontSize": 24, "labelPadding": 6,
        "tickSize": 8, "tickWidth": 1, "grid": false, "domainWidth": 1
      }
    },
    "y": {
      "field": "t", "type": "quantitative",
      "scale": {"domain": [0, 27], "nice": false, "zero": false},
      "axis": {
        "title": "degrees C", "titleFontSize": 20, "titleFontWeight": "bold", "titlePadding": 22, "titleY": 255,
        "values": [0, 3, 6, 9, 12, 15, 18, 21, 24, 27], "format": ".1f",
        "labelFontSize": 24, "labelPadding": 12, "tickSize": 7,
        "grid": true, "gridColor": "black", "gridWidth": 1, "gridOpacity": 1, "domainWidth": 1
      }
    },
    "color": {
      "field": "s", "type": "nominal",
      "scale": {
        "domain": ["1991","1992","1993","1994","1995","1996","1997","1998","1999"],
        "range": ["#FF0000","#FF00FF","#000000","#969696","#0000FF","#800000","#008080","#008000","#00CCFF"]
      },
      "legend": {
        "title": null, "orient": "none", "legendX": 980, "legendY": 44,
        "strokeColor": "black", "padding": 6, "symbolType": "M-1.38,0H1.38", "symbolSize": 1764, "symbolOffset": 6,
        "labelFontSize": 24, "labelFont": "Liberation Sans", "labelColor": "black", "labelOffset": 11,
        "rowPadding": 8
      }
    },
    "strokeWidth": {
      "field": "s", "type": "nominal",
      "scale": {
        "type": "ordinal",
        "domain": ["1991","1992","1993","1994","1995","1996","1997","1998","1999"],
        "range": [4.5, 1.5, 1.5, 1.5, 4.5, 1.5, 1.5, 1.5, 1.5]
      },
      "legend": {
        "title": null, "orient": "none", "legendX": 980, "legendY": 44,
        "strokeColor": "black", "padding": 6, "symbolType": "M-1.38,0H1.38", "symbolSize": 1764, "symbolOffset": 6,
        "labelFontSize": 24, "labelFont": "Liberation Sans", "labelColor": "black", "labelOffset": 11,
        "rowPadding": 8
      }
    }
  }
}
